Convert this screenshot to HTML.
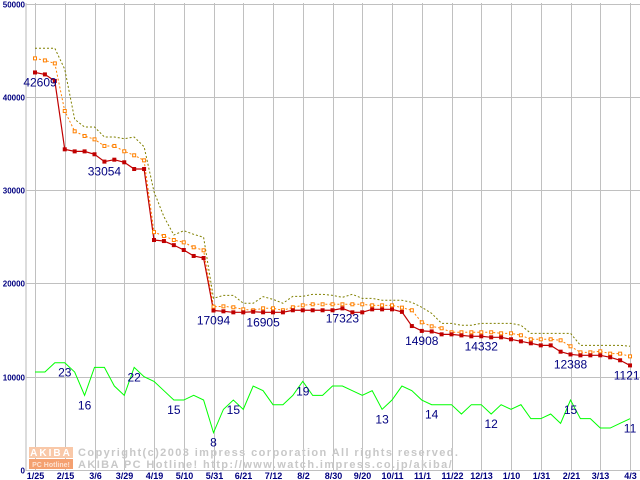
<!DOCTYPE html>
<html><head><meta charset="utf-8"><style>
body{margin:0;background:#fff;width:640px;height:480px;overflow:hidden}
svg{display:block;font-family:"Liberation Sans",sans-serif}
</style></head><body>
<svg id="chart" width="640" height="480" xmlns="http://www.w3.org/2000/svg">
<g id="grid"></g>
<g id="wm">
<rect x="29" y="447" width="44" height="11" fill="#f9c8a8"/>
<rect x="29" y="459" width="44" height="10" fill="#f4a070"/>
<text x="51" y="456" font-size="10" font-weight="bold" fill="#fff" text-anchor="middle" letter-spacing="2">AKIBA</text>
<text x="51" y="467" font-size="7" font-weight="bold" fill="#fde0d0" text-anchor="middle">PC Hotline!</text>
<text x="78" y="456" font-size="11" font-weight="bold" fill="#c8c8c8" letter-spacing="1.4">Copyright(c)2003 impress corporation All rights reserved.</text>
<text x="78" y="468" font-size="11" font-weight="bold" fill="#c8c8c8" letter-spacing="1.4">AKIBA PC Hotline!  http://www.watch.impress.co.jp/akiba/</text>
</g>
<g id="series"></g>
<g id="labels"></g>
</svg>
<script>
const xLabels=["1/25","2/15","3/6","3/29","4/19","5/10","5/31","6/21","7/12","8/2","8/30","9/20","10/11","11/1","11/22","12/13","1/10","1/31","2/21","3/13","4/3"];
const yTicks=[0,10000,20000,30000,40000,50000];
const minPrice=[42609,42400,41700,34370,34150,34150,33840,33054,33260,32980,32260,32260,24650,24540,24100,23580,22940,22720,17094,17010,16900,16900,16960,16905,16900,16900,17120,17120,17120,17120,17120,17323,16900,16900,17220,17220,17220,16950,15430,14908,14850,14540,14540,14430,14330,14332,14220,14220,14010,13790,13580,13360,13360,12680,12388,12290,12290,12290,12080,11760,11210];
const avgPrice=[44120,43900,43580,38480,36300,35800,35440,34730,34730,34160,33730,33190,25500,25080,24650,24400,23870,23550,17500,17540,17440,17220,17120,17330,17330,17120,17440,17650,17760,17760,17760,17760,17760,17760,17650,17650,17650,17400,17120,15830,15400,15190,14760,14760,14760,14760,14760,14650,14650,14440,14010,14010,14010,13900,13260,12610,12610,12720,12470,12470,12180];
const maxPrice=[45200,45200,45200,42950,37590,36760,36760,35690,35690,35510,35690,34650,29830,27150,25190,25650,25260,24940,18400,18720,18720,17870,17870,18580,18290,17870,18610,18610,18830,18830,18720,18510,18830,18400,18400,18190,18190,18190,17970,17440,16790,15720,15720,15510,15510,15720,15720,15720,15720,15510,14650,14650,14650,14650,14650,13360,13360,13360,13360,13360,13260];
const shopCount=[21,21,23,23,21,16,22,22,18,16,22,20,19,17,15,15,16,15,8,13,15,13,18,17,14,14,16,19,16,16,18,18,17,16,17,13,15,18,17,15,14,14,14,12,14,14,12,14,13,14,11,11,12,10,15,11,11,9,9,10,11];
const priceLabelIdx=[0,7,18,23,31,39,45,54,60];
const countLabelIdx=[3,5,10,14,18,20,27,35,40,46,54,60];

const NS="http://www.w3.org/2000/svg";
const X0=35,DX=9.917,Y0=470,YS=93.3/10000;
const xs=i=>X0+i*DX;
const ys=v=>Y0-v*YS;
const yc=c=>ys(c*500);
function mk(tag,attrs,parent){const e=document.createElementNS(NS,tag);for(const k in attrs)e.setAttribute(k,attrs[k]);parent.appendChild(e);return e;}
const grid=document.getElementById('grid'),ser=document.getElementById('series'),lab=document.getElementById('labels');

let e=mk('line',{x1:26,y1:3,x2:26,y2:471,stroke:'#b8b8b8'},grid);


yTicks.forEach(v=>{
 const y=Math.round(ys(v))+0.5;
 let l=mk('line',{x1:26,y1:y,x2:640,y2:y,stroke:'#c0c0c0'},grid);
 
 
 let t=mk('text',{x:25,y:y+3,'font-size':8,'font-weight':'bold',fill:'#000080','text-anchor':'end'},grid);
 t.textContent=v;
 
 
});
xLabels.forEach((s,k)=>{
 const x=Math.round(xs(k*3))+0.5;
 let l=mk('line',{x1:x,y1:3,x2:x,y2:471,stroke:'#c0c0c0'},grid);
 
 
 let t=mk('text',{x:x,y:479,'font-size':9,'font-weight':'bold',fill:'#000080','text-anchor':'middle'},grid);
 t.textContent=s;
 
 
});
function line(arr,f,color,dash,name,w){
 const p=mk('polyline',{points:arr.map((v,i)=>xs(i)+','+f(v)).join(' '),fill:'none',stroke:color,'stroke-width':w||1,'stroke-dasharray':dash||'none'},ser);
 
 
}
line(shopCount,yc,'#00ff00',null,'shop-count-line');
line(maxPrice,ys,'#808000','2,2','max-price-line');
line(avgPrice,ys,'#ff8000','2,2','avg-price-line');
line(minPrice,ys,'#c00000',null,'min-price-line',1.2);
avgPrice.forEach((v,i)=>{
 const r=mk('rect',{x:xs(i)-1.5,y:ys(v)-1.5,width:3,height:3,fill:'#fff',stroke:'#ff8000'},ser);
 
 
});
minPrice.forEach((v,i)=>{
 const r=mk('rect',{x:xs(i)-2,y:ys(v)-2,width:4,height:4,fill:'#c00000'},ser);
 
 
});
priceLabelIdx.forEach(i=>{
 const t=mk('text',{x:Math.max(40,xs(i)),y:ys(minPrice[i])+14,'font-size':12,fill:'#000080','text-anchor':'middle'},lab);
 t.textContent=minPrice[i];
 
 
});
countLabelIdx.forEach(i=>{
 const t=mk('text',{x:xs(i),y:yc(shopCount[i])+14,'font-size':12,fill:'#000080','text-anchor':'middle'},lab);
 t.textContent=shopCount[i];
 
 
});
</script>
</body></html>
